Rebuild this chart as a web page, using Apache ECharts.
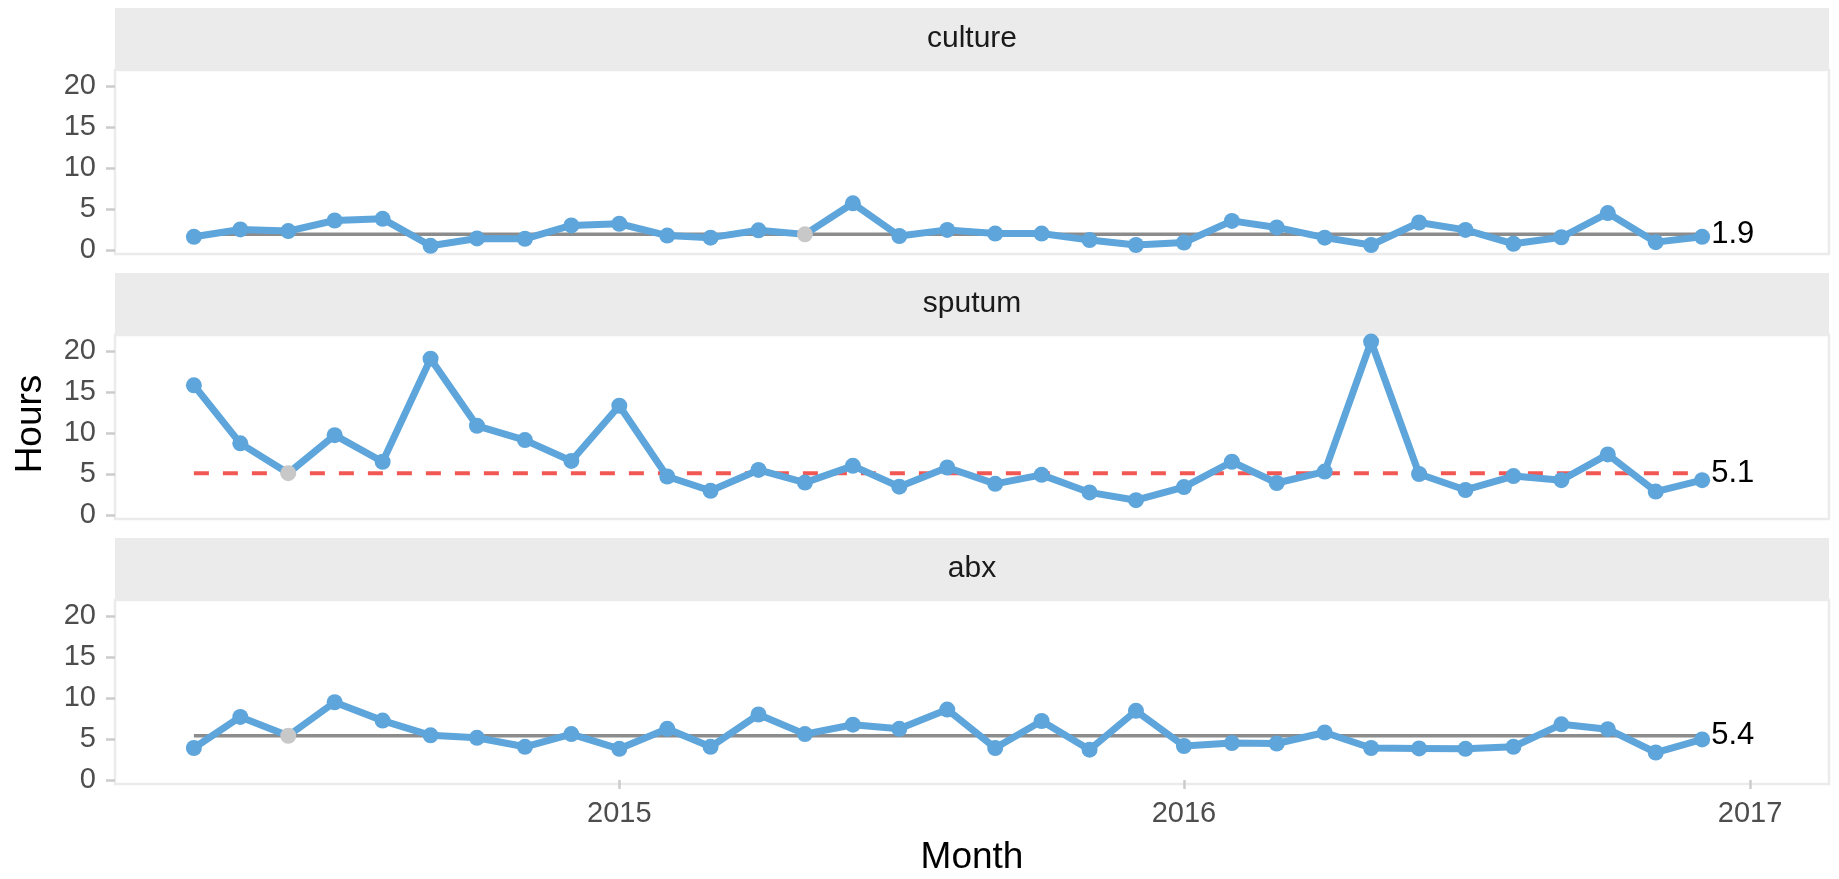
<!DOCTYPE html>
<html>
<head>
<meta charset="utf-8">
<title>Run charts</title>
<script src="https://cdn.jsdelivr.net/npm/echarts@6/dist/echarts.min.js"></script>
<style>
  html, body { margin: 0; padding: 0; background: #fff; }
  #chart { width: 1839px; height: 879px; }
</style>
</head>
<body>
<div id="chart"></div>
<script>
// data
const months = [
  '2014-04-01', '2014-05-01', '2014-06-01', '2014-07-01', '2014-08-01', '2014-09-01',
  '2014-10-01', '2014-11-01', '2014-12-01', '2015-01-01', '2015-02-01', '2015-03-01',
  '2015-04-01', '2015-05-01', '2015-06-01', '2015-07-01', '2015-08-01', '2015-09-01',
  '2015-10-01', '2015-11-01', '2015-12-01', '2016-01-01', '2016-02-01', '2016-03-01',
  '2016-04-01', '2016-05-01', '2016-06-01', '2016-07-01', '2016-08-01', '2016-09-01',
  '2016-10-01', '2016-11-01', '2016-12-01'
]
const facets = ['culture', 'sputum', 'abx']
const culture = [1.6, 2.5, 2.3, 3.6, 3.8, 0.5, 1.4, 1.35, 3.0, 3.2, 1.75, 1.5, 2.4, 1.9, 5.7, 1.7, 2.45,
  2.0, 2.0, 1.2, 0.6, 0.9, 3.55, 2.75, 1.5, 0.6, 3.35, 2.45, 0.75, 1.55, 4.5, 0.95, 1.6]
const sputum = [15.85, 8.75, 5.1, 9.75, 6.5, 19.1, 10.9, 9.15, 6.6, 13.35, 4.7, 2.95, 5.5, 3.95, 6.0, 3.45,
  5.8, 3.8, 4.9, 2.75, 1.8, 3.4, 6.5, 3.9, 5.3, 21.2, 5.0, 3.05, 4.75, 4.25, 7.4, 2.85, 4.25]
const abx = [3.9, 7.7, 5.4, 9.5, 7.25, 5.45, 5.15, 4.05, 5.6, 3.8, 6.25, 4.05, 8.0, 5.6, 6.75, 6.25, 8.6,
  3.9, 7.2, 3.7, 8.45, 4.15, 4.5, 4.45, 5.8, 3.9, 3.85, 3.8, 4.05, 6.8, 6.2, 3.35, 4.95]
const medians = [1.9, 5.1, 5.4]
const medianDashed = [false, true, false]
const greyIndex = [13, 2, 2]
const yTicks = [0, 5, 10, 15, 20]
const yearTicks = ['2015-01-01', '2016-01-01', '2017-01-01']

const values = [culture, sputum, abx]

// layout
const gridLeft = 115
const gridRight = 10
const gridTops = [70, 335, 600]
const panelH = 184
const stripH = 62
const font = '"Liberation Sans", Arial, sans-serif'
const blue = '#5DA5DA'

const toTime = d => {
  const p = d.split('-').map(Number)
  return new Date(p[0], p[1] - 1, p[2]).getTime()
}
const monthTimes = months.map(toTime)
const yearTickTimes = yearTicks.map(toTime)
const xMin = toTime('2014-02-09')
const xMax = toTime('2017-02-21')

const chart = echarts.init(document.getElementById('chart'))

const grids = gridTops.map(top => ({
  left: gridLeft,
  right: gridRight,
  top: top,
  height: panelH,
  show: true,
  backgroundColor: '#fff',
  borderColor: '#ebebeb',
  borderWidth: 2.5,
}))

const xAxes = facets.map((f, i) => {
  const last = i === facets.length - 1
  return {
    type: 'value',
    gridIndex: i,
    min: xMin,
    max: xMax,
    axisLine: { show: false },
    splitLine: { show: false },
    axisTick: {
      show: last,
      length: 9,
      customValues: yearTickTimes,
      lineStyle: { color: '#cccccc', width: 2.5 },
    },
    axisLabel: {
      show: last,
      customValues: yearTickTimes,
      margin: 15,
      fontFamily: font,
      fontSize: 29,
      color: '#4d4d4d',
      formatter: v => String(new Date(v).getFullYear()),
    },
  }
})

const yAxes = facets.map((f, i) => ({
  type: 'value',
  gridIndex: i,
  min: -0.5,
  max: 22,
  axisLine: { show: false },
  splitLine: { show: false },
  axisTick: {
    show: true,
    length: 9,
    customValues: yTicks,
    lineStyle: { color: '#cccccc', width: 2.5 },
  },
  axisLabel: {
    customValues: yTicks,
    margin: 19,
    fontFamily: font,
    fontSize: 29,
    color: '#4d4d4d',
  },
}))

const series = []
facets.forEach((f, i) => {
  const vals = values[i]
  const med = medians[i]
  series.push({
    type: 'line',
    xAxisIndex: i,
    yAxisIndex: i,
    z: 2,
    symbol: 'none',
    silent: true,
    data: [[monthTimes[0], med], [monthTimes[monthTimes.length - 1], med]],
    lineStyle: medianDashed[i]
      ? { color: '#F15854', width: 4, type: [15, 14] }
      : { color: '#8c8c8c', width: 3.5 },
    endLabel: {
      show: true,
      distance: 9,
      formatter: () => med.toFixed(1),
      fontFamily: font,
      fontSize: 31,
      color: '#000',
    },
  })
  series.push({
    type: 'line',
    xAxisIndex: i,
    yAxisIndex: i,
    z: 3,
    symbol: 'circle',
    symbolSize: 16,
    showAllSymbol: true,
    lineStyle: { color: blue, width: 7, join: 'round' },
    itemStyle: { color: blue },
    data: monthTimes.map((t, j) => j === greyIndex[i]
      ? { value: [t, vals[j]], itemStyle: { color: '#c8c8c8' } }
      : [t, vals[j]]),
  })
})

const graphics = []
facets.forEach((f, i) => {
  const top = gridTops[i] - stripH
  graphics.push({
    type: 'rect',
    left: gridLeft,
    top: top,
    shape: { width: 1839 - gridLeft - gridRight, height: stripH },
    style: { fill: '#ebebeb' },
  })
  graphics.push({
    type: 'text',
    x: gridLeft + (1839 - gridLeft - gridRight) / 2,
    y: top + stripH / 2,
    style: {
      text: f,
      fontFamily: font,
      fontSize: 30,
      fill: '#1a1a1a',
      textAlign: 'center',
      textVerticalAlign: 'middle',
    },
  })
})
graphics.push({
  type: 'text',
  x: 31,
  y: 424,
  rotation: Math.PI / 2,
  style: {
    text: 'Hours',
    fontFamily: font,
    fontSize: 37,
    fill: '#000',
    textAlign: 'center',
    textVerticalAlign: 'middle',
  },
})
graphics.push({
  type: 'text',
  x: gridLeft + (1839 - gridLeft - gridRight) / 2,
  y: 858,
  style: {
    text: 'Month',
    fontFamily: font,
    fontSize: 37,
    fill: '#000',
    textAlign: 'center',
    textVerticalAlign: 'middle',
  },
})

chart.setOption({
  animation: false,
  backgroundColor: '#fff',
  grid: grids,
  xAxis: xAxes,
  yAxis: yAxes,
  series: series,
  graphic: graphics,
})
</script>
</body>
</html>
